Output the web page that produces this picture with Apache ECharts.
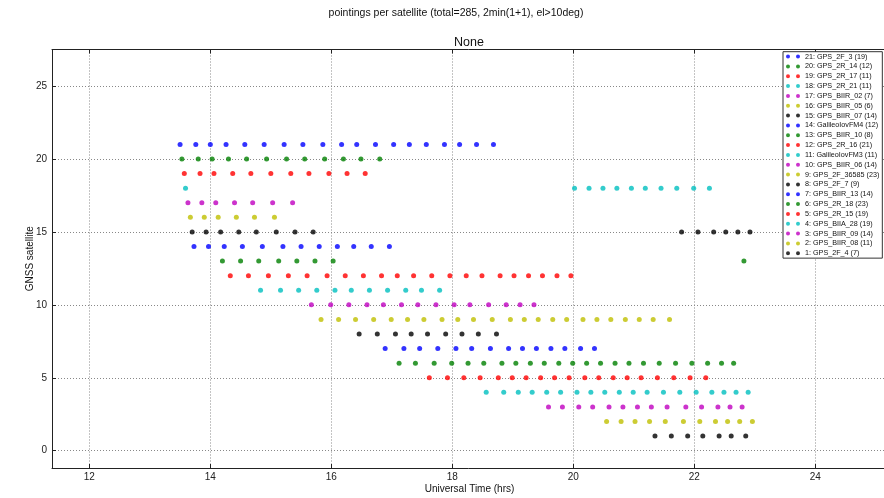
<!DOCTYPE html>
<html>
<head>
<meta charset="utf-8">
<script src="https://cdn.jsdelivr.net/npm/echarts@6/dist/echarts.min.js"></script>
<style>html,body{margin:0;padding:0;background:#fff;}#c{width:884px;height:498px;}</style>
</head>
<body>
<div id="c"></div>
<script>
// ---- data (hours UT for each pointing, per satellite) ----
const satIds = [21,20,19,18,17,16,15,14,13,12,11,10,9,8,7,6,5,4,3,2,1];
const satNames = ["GPS_2F_3","GPS_2R_14","GPS_2R_17","GPS_2R_21","GPS_BIIR_02","GPS_BIIR_05","GPS_BIIR_07","GalileoIovFM4","GPS_BIIR_10","GPS_2R_16","GalileoIovFM3","GPS_BIIR_06","GPS_2F_36585","GPS_2F_7","GPS_BIIR_13","GPS_2R_18","GPS_2R_15","GPS_BIIA_28","GPS_BIIR_09","GPS_BIIR_08","GPS_2F_4"];
const t21 = [13.50,13.76,14.00,14.26,14.57,14.89,15.22,15.53,15.86,16.17,16.42,16.73,17.03,17.29,17.57,17.87,18.12,18.40,18.68];
const t20 = [13.53,13.80,14.03,14.30,14.60,14.93,15.26,15.56,15.89,16.20,16.49,16.80];
const t19 = [13.57,13.83,14.06,14.37,14.67,15.00,15.33,15.63,15.96,16.26,16.56];
const t18 = [13.59,20.02,20.26,20.49,20.72,20.96,21.19,21.45,21.71,21.99,22.25];
const t17 = [13.63,13.86,14.09,14.40,14.70,15.03,15.36];
const t16 = [13.67,13.90,14.13,14.43,14.73,15.06];
const t15 = [13.70,13.93,14.17,14.47,14.76,15.09,15.40,15.70,21.79,22.06,22.32,22.52,22.72,22.92];
const t14 = [13.73,13.97,14.23,14.53,14.86,15.20,15.50,15.80,16.10,16.37,16.66,16.96];
const t13 = [14.20,14.50,14.80,15.13,15.43,15.73,16.03,22.82];
const t12 = [14.33,14.63,14.96,15.29,15.60,15.93,16.23,16.53,16.83,17.09,17.36,17.66,17.96,18.23,18.49,18.79,19.02,19.26,19.49,19.73,19.96];
const t11 = [14.83,15.16,15.46,15.76,16.06,16.33,16.63,16.93,17.23,17.49,17.79];
const t10 = [15.67,15.99,16.29,16.59,16.86,17.16,17.43,17.73,18.03,18.29,18.60,18.89,19.12,19.35];
const t9 = [15.83,16.12,16.40,16.70,16.99,17.26,17.53,17.83,18.09,18.35,18.66,18.96,19.19,19.42,19.66,19.89,20.16,20.39,20.62,20.86,21.09,21.32,21.59];
const t8 = [16.46,16.76,17.06,17.32,17.59,17.89,18.16,18.43,18.73];
const t7 = [16.89,17.20,17.46,17.76,18.06,18.32,18.63,18.93,19.16,19.39,19.63,19.86,20.12,20.35];
const t6 = [17.12,17.39,17.70,17.99,18.26,18.52,18.82,19.05,19.29,19.52,19.76,19.99,20.22,20.45,20.69,20.92,21.16,21.42,21.69,21.96,22.22,22.45,22.65];
const t5 = [17.62,17.92,18.19,18.46,18.76,18.99,19.22,19.46,19.69,19.93,20.19,20.42,20.66,20.89,21.12,21.39,21.66,21.93,22.19];
const t4 = [18.56,18.85,19.09,19.32,19.56,19.79,20.06,20.29,20.52,20.76,20.99,21.22,21.49,21.76,22.03,22.29,22.49,22.69,22.89];
const t3 = [19.59,19.82,20.09,20.32,20.59,20.82,21.06,21.29,21.55,21.86,22.12,22.39,22.59,22.79];
const t2 = [20.55,20.79,21.02,21.26,21.52,21.82,22.09,22.35,22.55,22.75,22.96];
const t1 = [21.35,21.62,21.89,22.14,22.41,22.61,22.85];
const times = [t21,t20,t19,t18,t17,t16,t15,t14,t13,t12,t11,t10,t9,t8,t7,t6,t5,t4,t3,t2,t1];
const xTicks = [12,14,16,18,20,22,24];
const yTicks = [0,5,10,15,20,25];
const total = 285;

// ---- style ----
const colorCycle = ['#0000ff','#008000','#ff0000','#00bfbf','#bf00bf','#bfbf00','#000000'];
const FONT = 'Liberation Sans, Arial, sans-serif';
const XMIN = 11.383, XMAX = 25.185, YMIN = -1.186, YMAX = 27.51;
const AX = '#222';

const series = satIds.map((id, i) => ({
  name: id + ': ' + satNames[i] + ' (' + times[i].length + ')',
  type: 'scatter',
  xAxisIndex: 0, yAxisIndex: 0,
  symbol: 'circle',
  symbolSize: 5,
  itemStyle: { color: colorCycle[i % colorCycle.length] },
  data: times[i].map(t => [t, id]),
  animation: false
}));

const legendIcon = 'path://M2,0A2,2 0 1,1 2,4A2,2 0 1,1 2,0ZM12,0A2,2 0 1,1 12,4A2,2 0 1,1 12,0Z';

const chart = echarts.init(document.getElementById('c'), null, { renderer: 'canvas' });
chart.setOption({
  backgroundColor: '#fff',
  animation: false,
  title: [
    { text: 'pointings per satellite (total=' + total + ', 2min(1+1), el>10deg)', left: 456, top: 7.5, padding: 0, textAlign: 'center',
      textStyle: { fontFamily: FONT, fontSize: 10.5, fontWeight: 'normal', color: '#111' } },
    { text: 'None', left: 469, top: 36, padding: 0, textAlign: 'center',
      textStyle: { fontFamily: FONT, fontSize: 12.5, fontWeight: 'normal', color: '#111' } }
  ],
  grid: { left: 52, top: 49.5, right: -3, bottom: 30, containLabel: false, outerBoundsMode: 'none', show: false },
  legend: {
    orient: 'vertical', left: 783, top: 51.7,
    padding: [0, 3, 0, 3], itemGap: 0,
    itemWidth: 14, itemHeight: 4,
    icon: legendIcon,
    backgroundColor: '#fff', borderColor: '#333', borderWidth: 1,
    textStyle: { fontFamily: FONT, fontSize: 7.2, color: '#111', lineHeight: 9.83 },
    selectedMode: false
  },
  xAxis: [{
    type: 'value', min: XMIN, max: XMAX, position: 'bottom',
    axisLine: { show: true, onZero: false, lineStyle: { color: AX, width: 1 } },
    axisTick: { show: true, inside: true, length: 4, customValues: xTicks, lineStyle: { color: AX } },
    axisLabel: { customValues: xTicks, fontFamily: FONT, fontSize: 10, color: '#222', margin: 4 },
    splitLine: { show: true, lineStyle: { type: [1, 2], color: '#888', width: 1 } },
    name: 'Universal Time (hrs)', nameLocation: 'middle', nameGap: 16, nameMoveOverlap: false,
    nameTextStyle: { fontFamily: FONT, fontSize: 10, color: '#111' }
  }, {
    type: 'value', min: XMIN, max: XMAX, position: 'top',
    axisLine: { show: true, onZero: false, lineStyle: { color: AX, width: 1 } },
    axisTick: { show: true, inside: true, length: 4, customValues: xTicks, lineStyle: { color: AX } },
    axisLabel: { show: false },
    splitLine: { show: false }
  }],
  yAxis: [{
    type: 'value', min: YMIN, max: YMAX, position: 'left',
    axisLine: { show: true, onZero: false, lineStyle: { color: AX, width: 1 } },
    axisTick: { show: true, inside: true, length: 4, customValues: yTicks, lineStyle: { color: AX } },
    axisLabel: { customValues: yTicks, fontFamily: FONT, fontSize: 10, color: '#222', margin: 5 },
    splitLine: { show: true, lineStyle: { type: [1, 2], color: '#888', width: 1 } },
    name: 'GNSS satellite', nameLocation: 'middle', nameGap: 17, nameRotate: 90, nameMoveOverlap: false,
    nameTextStyle: { fontFamily: FONT, fontSize: 10, color: '#111' }
  }],
  series: series
});
</script>
</body>
</html>
